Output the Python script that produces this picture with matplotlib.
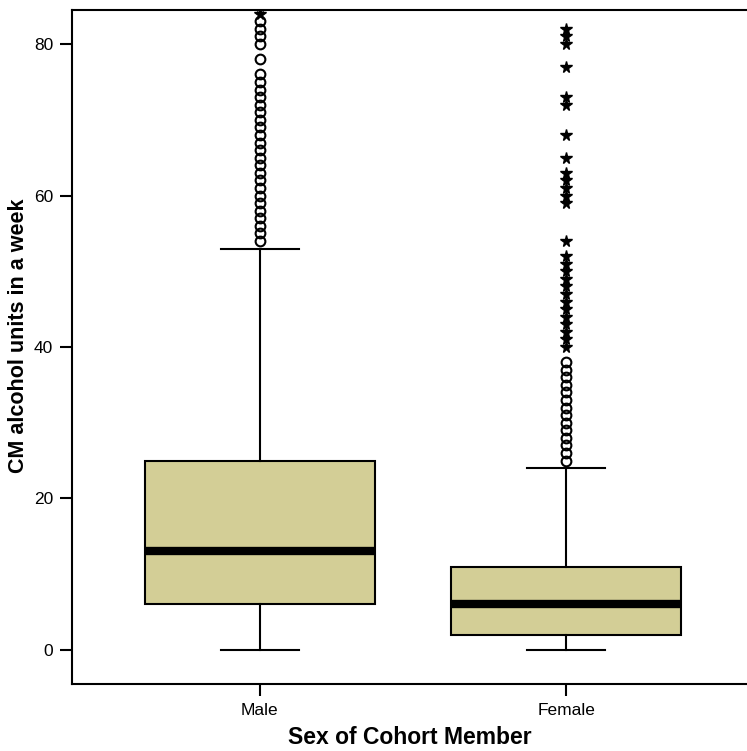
import matplotlib
matplotlib.use('Agg')
import matplotlib.pyplot as plt

plt.rcParams['font.family'] = ['Liberation Sans', 'DejaVu Sans']

groups = ['Male', 'Female']
q1 = [6, 2]
med = [13, 6]
q3 = [25, 11]
whislo = [0, 0]
whishi = [53, 24]

# outliers (circles) and extremes (stars)
male_out = list(range(54, 77)) + [78, 80, 81, 82, 83]
female_out = list(range(25, 39))
male_ext = [84, 85]
female_ext = list(range(40, 53)) + [54, 59, 60, 61, 62, 63, 65, 68, 72, 73, 77, 80, 81, 82]

fig = plt.figure(figsize=(7.47, 7.51), dpi=100)
ax = fig.add_axes([0.0964, 0.0892, 0.9036, 0.8975])

stats = []
for i, g in enumerate(groups):
    stats.append({'label': g, 'q1': q1[i], 'med': med[i], 'q3': q3[i],
                  'whislo': whislo[i], 'whishi': whishi[i],
                  'fliers': [male_out, female_out][i]})

ax.bxp(stats, positions=[1, 2], widths=0.75, patch_artist=True,
       boxprops=dict(facecolor='#d3ce96', edgecolor='black', linewidth=1.5),
       medianprops=dict(color='black', linewidth=6, solid_capstyle='butt'),
       whiskerprops=dict(color='black', linewidth=1.5),
       capprops=dict(color='black', linewidth=1.5),
       capwidths=0.255,
       flierprops=dict(marker='o', markerfacecolor='none', markeredgecolor='black',
                       markersize=7, markeredgewidth=1.5))

ax.plot([1] * len(male_ext), male_ext, '*', color='black', markersize=8.5)
ax.plot([2] * len(female_ext), female_ext, '*', color='black', markersize=8.5)

ax.set_xlim(0.388, 2.59)
ax.set_ylim(-4.5, 84.5)
ax.set_yticks([0, 20, 40, 60, 80])
ax.spines['right'].set_visible(False)
for s in ['left', 'bottom', 'top']:
    ax.spines[s].set_linewidth(1.5)
ax.tick_params(axis='both', direction='out', length=8.5, width=1.5, labelsize=12.5, pad=5)
ax.set_xlabel('Sex of Cohort Member', fontsize=16.5, fontweight='bold', labelpad=6)
ax.set_ylabel('CM alcohol units in a week', fontsize=15.5, fontweight='bold')
ax.yaxis.set_label_coords(-0.063, 0.516)

fig.savefig('out.png', dpi=100)
